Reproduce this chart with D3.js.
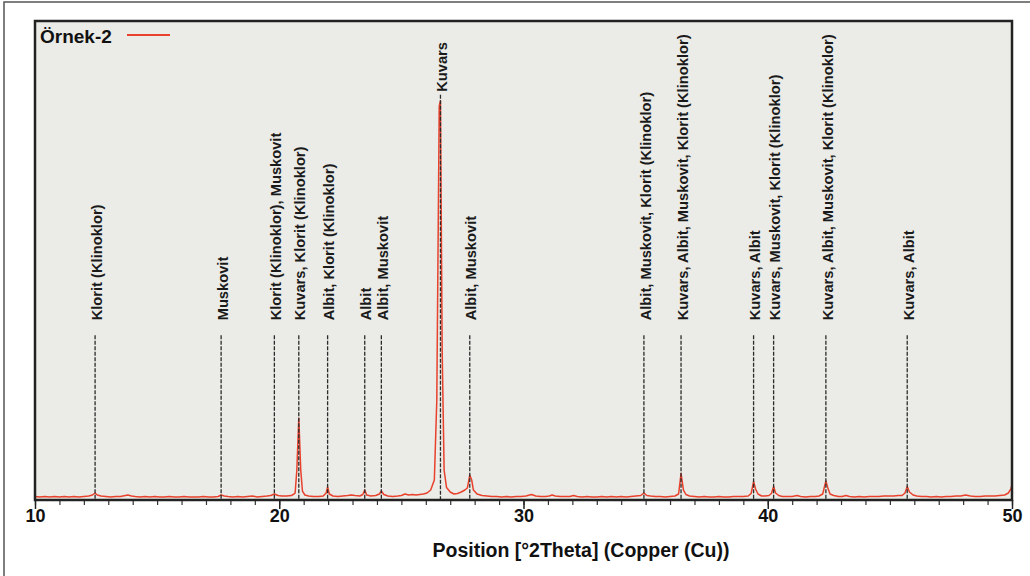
<!DOCTYPE html>
<html>
<head>
<meta charset="utf-8">
<script src="https://cdn.jsdelivr.net/npm/d3@7"></script>
<style>
  html, body { margin: 0; padding: 0; background: #fff; }
  svg { display: block; font-family: "Liberation Sans", Arial, Helvetica, sans-serif; }
</style>
</head>
<body>
<div id="chart"></div>
<script>
// XRD trace: [°2Theta, intensity]
const pattern = [
  [10.0, 7], [10.2, 6], [10.4, 7], [10.6, 6], [10.8, 7], [11.0, 6], [11.2, 7], [11.4, 6], [11.6, 7], [11.8, 6],
  [12.0, 7], [12.2, 8], [12.35, 10], [12.46, 14], [12.55, 10], [12.7, 8], [12.9, 7], [13.1, 6], [13.3, 7], [13.5, 7],
  [13.7, 9], [13.8, 10], [13.95, 8], [14.1, 7], [14.3, 6], [14.5, 7], [14.7, 6], [14.9, 7], [15.1, 6], [15.3, 6],
  [15.5, 7], [15.7, 6], [15.9, 6], [16.1, 7], [16.3, 6], [16.5, 6], [16.7, 6], [16.9, 7], [17.1, 6], [17.3, 6],
  [17.5, 7], [17.62, 10], [17.75, 8], [17.9, 7], [18.1, 6], [18.3, 7], [18.5, 6], [18.7, 7], [18.9, 8], [19.1, 6],
  [19.3, 7], [19.5, 8], [19.65, 9], [19.8, 12], [19.95, 9], [20.1, 8], [20.3, 8], [20.5, 9], [20.65, 14], [20.72, 60],
  [20.8, 164], [20.88, 60], [20.95, 18], [21.05, 10], [21.2, 8], [21.4, 7], [21.6, 7], [21.8, 8], [21.92, 14], [21.98, 26],
  [22.05, 12], [22.2, 8], [22.4, 7], [22.6, 8], [22.8, 9], [22.95, 10], [23.1, 9], [23.3, 8], [23.42, 11], [23.5, 20],
  [23.58, 10], [23.75, 8], [23.95, 9], [24.1, 12], [24.18, 18], [24.28, 11], [24.45, 8], [24.65, 7], [24.85, 8], [25.0, 9],
  [25.15, 12], [25.3, 10], [25.45, 11], [25.6, 10], [25.75, 11], [25.9, 12], [26.05, 14], [26.2, 20], [26.35, 40], [26.45, 200],
  [26.55, 790], [26.6, 800], [26.67, 300], [26.75, 60], [26.85, 25], [27.0, 16], [27.15, 12], [27.3, 13], [27.45, 16], [27.6, 20],
  [27.7, 24], [27.8, 50], [27.88, 40], [27.95, 20], [28.1, 12], [28.3, 9], [28.5, 8], [28.7, 7], [28.9, 7], [29.1, 6],
  [29.3, 7], [29.5, 6], [29.7, 7], [29.9, 7], [30.1, 8], [30.33, 11], [30.5, 8], [30.7, 7], [30.9, 7], [31.05, 8],
  [31.17, 10], [31.3, 8], [31.5, 7], [31.7, 7], [31.9, 7], [32.05, 9], [32.2, 7], [32.4, 6], [32.6, 7], [32.8, 6],
  [33.0, 6], [33.2, 7], [33.4, 6], [33.6, 7], [33.8, 6], [34.0, 7], [34.2, 6], [34.4, 7], [34.6, 8], [34.8, 9],
  [34.93, 14], [35.05, 9], [35.2, 8], [35.4, 7], [35.6, 7], [35.8, 6], [36.0, 7], [36.2, 8], [36.35, 12], [36.45, 53],
  [36.55, 20], [36.65, 11], [36.8, 8], [37.0, 7], [37.2, 6], [37.4, 7], [37.6, 6], [37.8, 6], [38.0, 7], [38.2, 6],
  [38.4, 6], [38.6, 7], [38.8, 7], [39.0, 7], [39.2, 8], [39.32, 13], [39.42, 37], [39.5, 22], [39.6, 12], [39.75, 8],
  [39.9, 8], [40.05, 9], [40.15, 13], [40.24, 27], [40.32, 14], [40.45, 9], [40.6, 7], [40.8, 7], [41.0, 7], [41.2, 9],
  [41.35, 7], [41.55, 6], [41.75, 7], [41.95, 7], [42.1, 8], [42.25, 12], [42.38, 38], [42.46, 24], [42.55, 12], [42.7, 9],
  [42.9, 7], [43.05, 7], [43.2, 9], [43.35, 7], [43.55, 6], [43.75, 7], [43.95, 6], [44.15, 7], [44.35, 7], [44.55, 7],
  [44.75, 8], [44.95, 8], [45.15, 8], [45.35, 9], [45.5, 9], [45.62, 14], [45.71, 27], [45.8, 16], [45.95, 10], [46.1, 8],
  [46.3, 7], [46.5, 7], [46.7, 6], [46.9, 7], [47.1, 6], [47.3, 7], [47.5, 7], [47.7, 8], [47.9, 8], [48.1, 10],
  [48.3, 8], [48.5, 7], [48.7, 7], [48.9, 8], [49.1, 8], [49.3, 8], [49.5, 9], [49.7, 10], [49.85, 14], [49.95, 22],
  [50.0, 30]
]

// identified phases
const peakPositions = [12.46, 17.62, 19.8, 20.8, 21.98, 23.5, 24.18, 26.6, 27.8, 34.93, 36.45, 39.42, 40.24, 42.38, 45.71]
const peakHeights = [14, 10, 12, 164, 26, 20, 18, 800, 50, 14, 53, 37, 27, 38, 27]
const peakLabels = [
  "Klorit (Klinoklor)",
  "Muskovit",
  "Klorit (Klinoklor), Muskovit",
  "Kuvars, Klorit (Klinoklor)",
  "Albit, Klorit (Klinoklor)",
  "Albit",
  "Albit, Muskovit",
  "Kuvars",
  "Albit, Muskovit",
  "Albit, Muskovit, Klorit (Klinoklor)",
  "Kuvars, Albit, Muskovit, Klorit (Klinoklor)",
  "Kuvars, Albit",
  "Kuvars, Muskovit, Klorit (Klinoklor)",
  "Kuvars, Albit, Muskovit, Klorit (Klinoklor)",
  "Kuvars, Albit"
]

const majorTicks = [10, 20, 30, 40, 50]
const minorTicks = d3.range(10, 51, 1)
const sampleName = "Örnek-2"
const xTitle = "Position [°2Theta] (Copper (Cu))"

const width = 1030
const height = 576
const plot = { left: 35, top: 21, right: 1012, bottom: 500 }
const traceColor = "#e8412c"

const svg = d3.select("#chart").append("svg")
  .attr("width", width)
  .attr("height", height)

// outer frame (only left/top visible)
svg.append("rect")
  .attr("x", 4).attr("y", 2)
  .attr("width", width + 10).attr("height", height + 10)
  .attr("fill", "#fff").attr("stroke", "#555").attr("stroke-width", 1.5)

const x = d3.scaleLinear().domain([10, 50]).range([plot.left, plot.right])
const y = d3.scaleLinear().domain([0, 960]).range([plot.bottom, plot.top])

svg.append("rect")
  .attr("x", plot.left).attr("y", plot.top)
  .attr("width", plot.right - plot.left).attr("height", plot.bottom - plot.top)
  .attr("fill", "#ebebe7")

// minor ticks
svg.append("g")
  .attr("transform", `translate(0,${plot.bottom})`)
  .call(d3.axisBottom(x).tickValues(minorTicks).tickSize(5).tickFormat(""))
  .call(g => g.select(".domain").remove())
  .call(g => g.selectAll(".tick line").attr("stroke", "#333").attr("stroke-width", 1.2))

// major ticks + labels
svg.append("g")
  .attr("transform", `translate(0,${plot.bottom})`)
  .call(d3.axisBottom(x).tickValues(majorTicks).tickSize(9).tickFormat(d3.format("d")))
  .call(g => g.select(".domain").remove())
  .call(g => g.selectAll(".tick line").attr("stroke", "#222").attr("stroke-width", 1.5))
  .call(g => g.selectAll(".tick text")
    .attr("y", 22).attr("dy", 0)
    .attr("font-size", 18).attr("font-weight", "bold")
    .attr("font-family", "Liberation Sans, Arial, sans-serif")
    .attr("fill", "#111"))

svg.append("text")
  .attr("x", 581).attr("y", 557)
  .attr("text-anchor", "middle")
  .attr("font-size", 19.5).attr("font-weight", "bold").attr("fill", "#111")
  .text(xTitle)

// trace
const line = d3.line()
  .x(d => x(d[0]))
  .y(d => y(d[1]))

svg.append("path")
  .datum(pattern)
  .attr("d", line)
  .attr("fill", "none")
  .attr("stroke", traceColor)
  .attr("stroke-width", 1.5)
  .attr("stroke-linejoin", "round")

// reference lines and labels
const baseTop = y(330)
const marks = peakPositions.map((p, i) => {
  const peakTop = y(peakHeights[i]) - 6
  const tall = peakTop < baseTop
  const top = tall ? peakTop : baseTop
  return { pos: p, label: peakLabels[i], top, labelEnd: tall ? top - 3 : top - 15 }
})

const mg = svg.append("g")
mg.selectAll("line")
  .data(marks)
  .join("line")
  .attr("x1", d => x(d.pos)).attr("x2", d => x(d.pos))
  .attr("y1", d => d.top).attr("y2", plot.bottom)
  .attr("stroke", "#2b2b2b")
  .attr("stroke-width", 1.3)
  .attr("stroke-dasharray", "4,1.5")

mg.selectAll("text")
  .data(marks)
  .join("text")
  .attr("transform", d => `translate(${x(d.pos)},${d.labelEnd}) rotate(-90)`)
  .attr("dy", "0.45em")
  .attr("text-anchor", "start")
  .attr("font-size", 14.7).attr("font-weight", "bold").attr("fill", "#1a1a1a")
  .text(d => d.label)

// plot frame
svg.append("rect")
  .attr("x", plot.left).attr("y", plot.top)
  .attr("width", plot.right - plot.left).attr("height", plot.bottom - plot.top)
  .attr("fill", "none").attr("stroke", "#222").attr("stroke-width", 2.5)

// legend
svg.append("text")
  .attr("x", 40).attr("y", 43)
  .attr("font-size", 19).attr("font-weight", "bold").attr("fill", "#111")
  .text(sampleName)
svg.append("line")
  .attr("x1", 127).attr("x2", 170).attr("y1", 35).attr("y2", 35)
  .attr("stroke", traceColor).attr("stroke-width", 2)
</script>
</body>
</html>
